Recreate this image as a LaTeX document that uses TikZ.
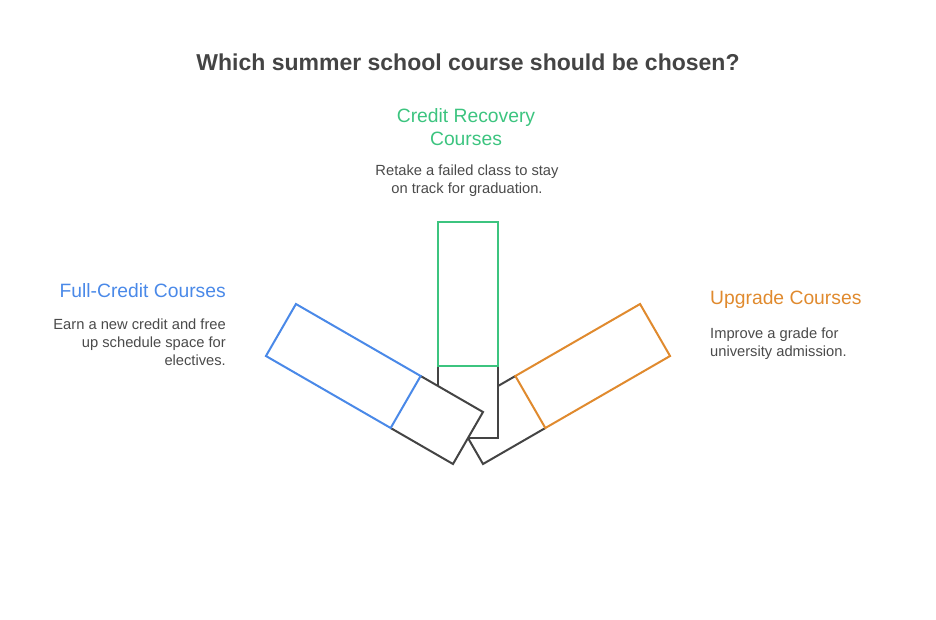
\documentclass[tikz,border=0pt]{standalone}
\usepackage{fontspec}
\setmainfont{Liberation Sans}
\definecolor{cgreen}{HTML}{3CC47F}
\definecolor{cblue}{HTML}{4A89E8}
\definecolor{corange}{HTML}{E08A2E}
\definecolor{cgray}{HTML}{444444}
\definecolor{ctext}{HTML}{4A4A4A}
\begin{document}
\begin{tikzpicture}[x=1pt,y=-1pt,
  bar/.style={line width=2pt,line join=miter,fill=white},
  title/.style={font=\fontsize{23}{28}\selectfont\bfseries,text=cgray},
  head/.style={font=\fontsize{19.3}{23.5}\selectfont,align=center,inner sep=0pt},
  body/.style={font=\fontsize{14.7}{18}\selectfont,text=ctext,inner sep=0pt}]
\useasboundingbox (0,0) rectangle (936,619);
% orange (right) bar
\filldraw[bar,draw=cgray] (515.35,376) -- (453,412) -- (483,464) -- (545.35,428);
\filldraw[bar,draw=corange] (515.35,376) -- (640.06,304) -- (670.06,356) -- (545.35,428) -- cycle;
% center bar
\filldraw[bar,draw=cgray] (438,366) -- (438,438) -- (498,438) -- (498,366);
\filldraw[bar,draw=cgreen] (438,222) rectangle (498,366);
% blue (left) bar
\filldraw[bar,draw=cgray] (420.65,376) -- (483,412) -- (453,464) -- (390.65,428);
\filldraw[bar,draw=cblue] (420.65,376) -- (295.94,304) -- (265.94,356) -- (390.65,428) -- cycle;
% texts
\node[title] (t) at (468,62) {Which summer school course should be chosen?};
\node[head,text=cgreen] (hc) at (466,127) {Credit Recovery\\Courses};
\node[body,align=center] (bc) at (467,181) {Retake a failed class to stay\\on track for graduation.};
\node[head,text=cblue,anchor=east] (hl) at (226,291) {Full-Credit Courses};
\node[body,align=right,anchor=east] (bl) at (226,342) {Earn a new credit and free\\up schedule space for\\electives.};
\node[head,text=corange,anchor=west] (hr) at (710,300) {Upgrade Courses};
\node[body,align=left,anchor=west] (br) at (710,343.5) {Improve a grade for\\university admission.};
\end{tikzpicture}
\end{document}
